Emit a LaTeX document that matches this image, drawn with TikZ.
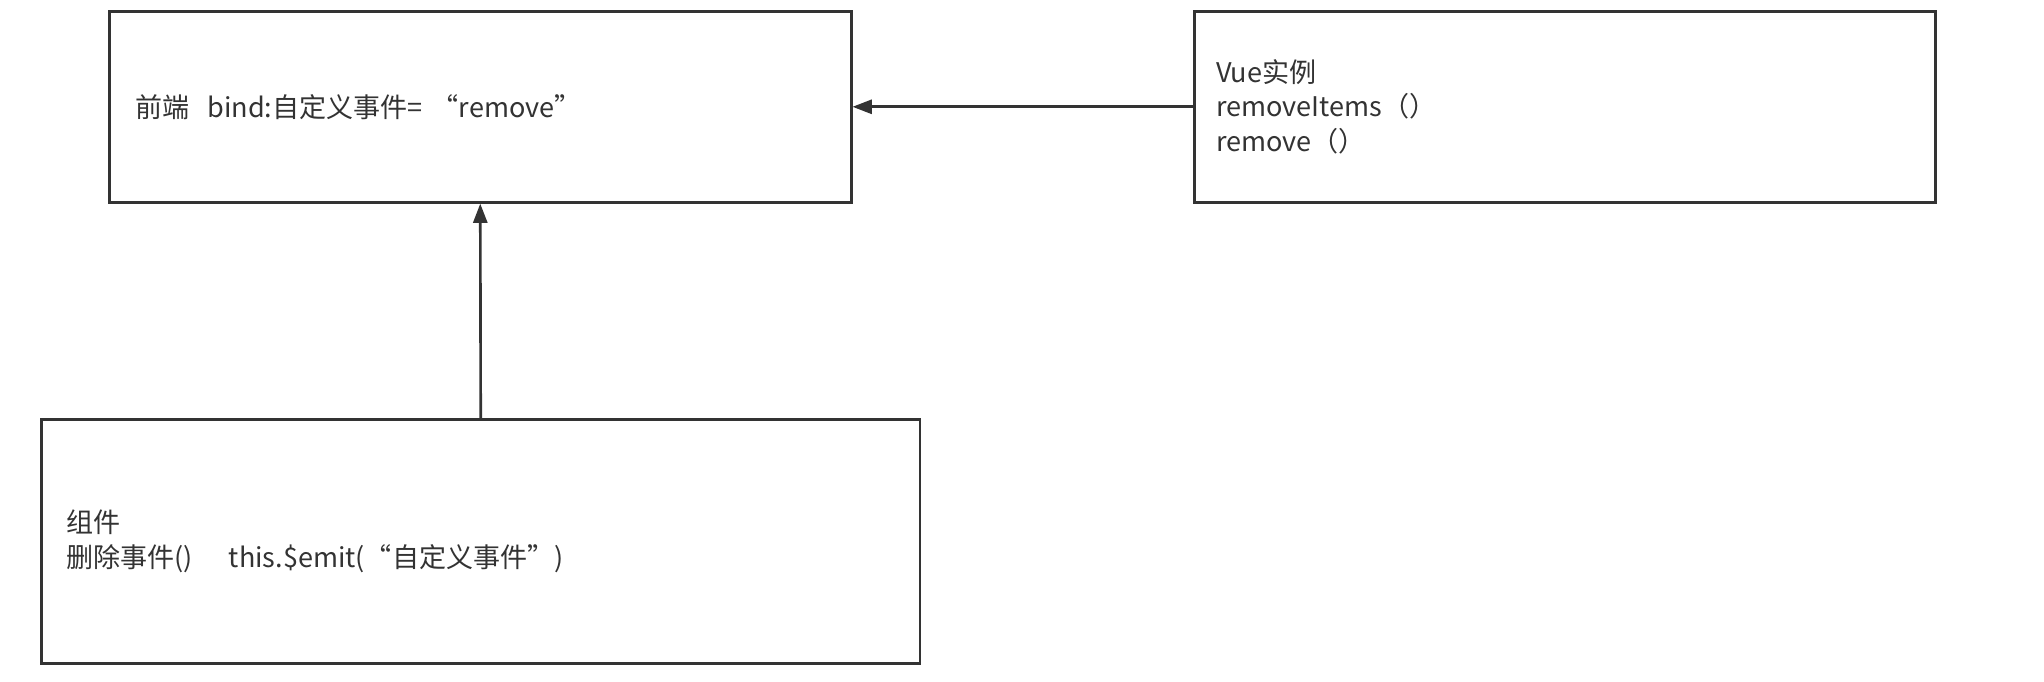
\documentclass[tikz,border=0pt]{standalone}
\usepackage{fontspec}
\setmainfont{Noto Sans CJK SC}
\usetikzlibrary{arrows.meta}

\begin{document}
\begin{tikzpicture}[x=0.02cm,y=-0.02cm]
\tikzstyle{every node}+=[inner sep=0pt]
\tikzstyle{box}=[draw=black!80, line width=1.5pt, anchor=north west, align=left, text=black!80, font=\fontsize{15.4}{19.6}\selectfont]
\tikzstyle{link}=[draw=black!80, line width=1.5pt, -{Triangle[length=11pt,width=8pt]}]
\useasboundingbox (0,0) rectangle (2044,682);
\node [box, inner xsep=0.52cm, text width=13.8cm, minimum width=14.84cm, minimum height=3.82cm] (front) at (108,10) {前端\ \ bind:自定义事件= “remove”};
\node [box, inner xsep=0.44cm, text width=13.94cm, minimum width=14.82cm, minimum height=3.82cm] (vue) at (1193,10) {Vue实例\\removeItems（）\\remove（）};
\node [box, inner xsep=0.5cm, text width=16.58cm, minimum width=17.58cm, minimum height=4.88cm] (comp) at (40,418) {组件\\删除事件()\ \ \ \ this.\$emit(“自定义事件”)};
\draw [link] (vue.west) -- (front.east);
\draw [link] (comp.north) -- (front.south);
\end{tikzpicture}
\end{document}
